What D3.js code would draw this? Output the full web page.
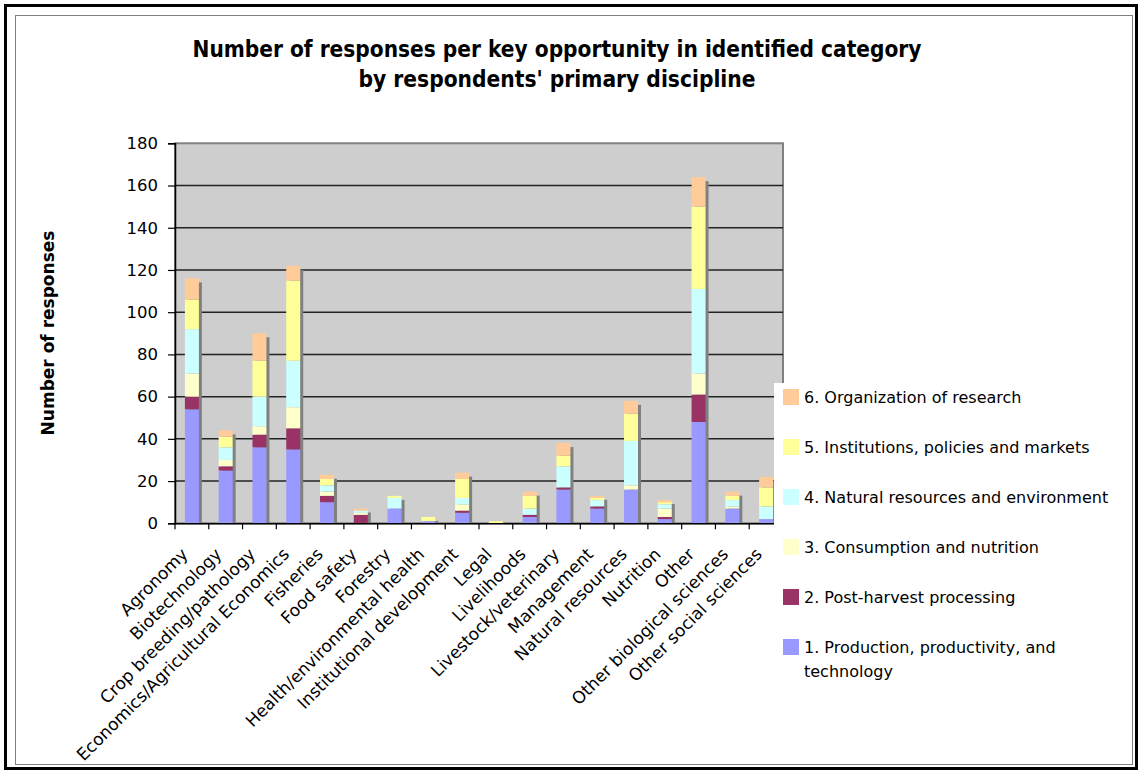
<!DOCTYPE html>
<html>
<head>
<meta charset="utf-8">
<script src="https://cdn.jsdelivr.net/npm/d3@7"></script>
<style>
  html, body { margin: 0; padding: 0; background: #fff; }
  svg { display: block; }
  text { font-family: "DejaVu Sans", sans-serif; fill: #000; }
</style>
</head>
<body>
<svg id="chart" width="1140" height="772"></svg>
<script>
// ---------- DATA ----------
const categories = [
  "Agronomy", "Biotechnology", "Crop breeding/pathology", "Economics/Agricultural Economics",
  "Fisheries", "Food safety", "Forestry", "Health/environmental health",
  "Institutional development", "Legal", "Livelihoods", "Livestock/veterinary",
  "Management", "Natural resources", "Nutrition", "Other",
  "Other biological sciences", "Other social sciences"
];
const seriesNames = [
  "1. Production, productivity, and technology",
  "2. Post-harvest processing",
  "3. Consumption and nutrition",
  "4. Natural resources and environment",
  "5. Institutions, policies and markets",
  "6. Organization of research"
];
const production   = [54, 25, 36, 35, 10, 0, 7, 1, 5, 0, 3, 16, 7, 16, 2, 48, 7, 2];
const postHarvest  = [ 6,  2,  6, 10,  3, 4, 0, 0, 1, 0, 1,  1, 1,  0, 1, 13, 0, 0];
const consumption  = [11,  3,  4, 10,  2, 1, 0, 0, 3, 0, 0,  0, 0,  2, 4, 10, 1, 0];
const naturalRes   = [21,  6, 14, 22,  3, 1, 5, 0, 3, 0, 3, 10, 3, 21, 2, 40, 3, 6];
const institutions = [14,  5, 17, 38,  3, 0, 1, 2, 9, 1, 6,  5, 1, 13, 1, 39, 2, 9];
const organization = [10,  3, 13,  7,  2, 1, 0, 0, 3, 0, 2,  6, 1,  6, 1, 14, 2, 5];
const yTicks = [0, 20, 40, 60, 80, 100, 120, 140, 160, 180];
const colors = ["#9999FF", "#993366", "#FFFFCC", "#CCFFFF", "#FFFF99", "#FFCC99"];
const titleLines = [
  "Number of responses per key opportunity in identified category",
  "by respondents' primary discipline"
];
const yTitle = "Number of responses";

// ---------- LAYOUT ----------
const svg = d3.select("#chart");
const plot = { left: 175, right: 783, top: 143.3, bottom: 523.3 };

// frames
svg.append("rect").attr("x", 5.5).attr("y", 5.5).attr("width", 1131).attr("height", 763)
  .attr("fill", "#fff").attr("stroke", "#000").attr("stroke-width", 3);
svg.append("rect").attr("x", 15.5).attr("y", 15.5).attr("width", 1117).attr("height", 749)
  .attr("fill", "#fff").attr("stroke", "#808080").attr("stroke-width", 1);

// title
const tLens = [729, 397];
const tBase = [57, 87];
titleLines.forEach((t, i) => {
  svg.append("text").attr("x", 557).attr("y", tBase[i]).attr("text-anchor", "middle")
    .attr("font-size", 23).attr("font-weight", "bold")
    .attr("textLength", tLens[i]).attr("lengthAdjust", "spacingAndGlyphs")
    .text(t);
});

// scales
const x = d3.scaleBand().domain(categories).range([plot.left, plot.right]).padding(0);
const y = d3.scaleLinear().domain([0, 180]).range([plot.bottom, plot.top]);

// plot background
svg.append("rect").attr("x", plot.left).attr("y", plot.top)
  .attr("width", plot.right - plot.left).attr("height", plot.bottom - plot.top)
  .attr("fill", "#cecece").attr("stroke", "#808080").attr("stroke-width", 2);

// gridlines
svg.append("g").selectAll("line").data(yTicks.filter(v => v > 0 && v < 180)).join("line")
  .attr("x1", plot.left).attr("x2", plot.right)
  .attr("y1", d => y(d)).attr("y2", d => y(d))
  .attr("stroke", "#222").attr("stroke-width", 1.5);

// stacked data
const seriesArrays = [production, postHarvest, consumption, naturalRes, institutions, organization];
const rows = categories.map((c, i) => {
  const r = { cat: c };
  seriesArrays.forEach((arr, k) => r["s" + k] = arr[i]);
  return r;
});
const keys = seriesArrays.map((_, k) => "s" + k);
const stacked = d3.stack().keys(keys)(rows);
const totals = rows.map(r => keys.reduce((a, k) => a + r[k], 0));

const barW = x.bandwidth() * 0.414;
const barX = c => x(c) + (x.bandwidth() - barW) / 2;

// shadows
svg.append("g").selectAll("rect").data(categories).join("rect")
  .attr("x", c => barX(c) + 3)
  .attr("y", (c, i) => Math.min(y(totals[i]) + 4, plot.bottom))
  .attr("width", barW)
  .attr("height", (c, i) => Math.max(0, plot.bottom - Math.min(y(totals[i]) + 4, plot.bottom)))
  .attr("fill", "#808080");

// bars
svg.append("g").selectAll("g").data(stacked).join("g")
  .attr("fill", (d, k) => colors[k])
  .selectAll("rect").data(d => d).join("rect")
  .attr("x", d => barX(d.data.cat))
  .attr("y", d => y(d[1]))
  .attr("width", barW)
  .attr("height", d => y(d[0]) - y(d[1]));

// y axis
const yAxis = svg.append("g").attr("transform", `translate(${plot.left},0)`)
  .call(d3.axisLeft(y).tickValues(yTicks).tickSize(7).tickPadding(10).tickFormat(d3.format("d")));
yAxis.select(".domain").attr("stroke", "#000").attr("stroke-width", 1.5);
yAxis.selectAll(".tick line").attr("stroke", "#000").attr("stroke-width", 1.2);
yAxis.selectAll(".tick text").attr("font-size", 16.5).attr("font-family", "DejaVu Sans").attr("fill", "#000");

// x axis
const xAxis = svg.append("g").attr("transform", `translate(0,${plot.bottom})`)
  .call(d3.axisBottom(x).tickSize(0).tickFormat(""));
xAxis.select(".domain").attr("stroke", "#000").attr("stroke-width", 1.5);
const bounds = categories.map(c => x(c)).concat([plot.right]);
svg.append("g").selectAll("line").data(bounds).join("line")
  .attr("x1", d => d).attr("x2", d => d)
  .attr("y1", plot.bottom).attr("y2", plot.bottom + 6)
  .attr("stroke", "#000").attr("stroke-width", 1.2);
svg.append("g").selectAll("text").data(categories).join("text")
  .attr("transform", c => `translate(${x(c) + x.bandwidth() / 2 - 3},${plot.bottom + 32}) rotate(-45)`)
  .attr("text-anchor", "end")
  .attr("font-size", 17)
  .text(c => c);

// y title
svg.append("text").attr("transform", "translate(54,333) rotate(-90)")
  .attr("text-anchor", "middle").attr("font-size", 17).attr("font-weight", "bold")
  .text(yTitle);

// legend
const lg = svg.append("g");
lg.append("rect").attr("x", 774).attr("y", 383).attr("width", 356).attr("height", 315).attr("fill", "#fff");
const legendOrder = [5, 4, 3, 2, 1, 0];
legendOrder.forEach((k, i) => {
  const cy = 397 + i * 50;
  lg.append("rect").attr("x", 783).attr("y", cy - 8).attr("width", 16).attr("height", 16).attr("fill", colors[k]);
  const t = lg.append("text").attr("x", 804).attr("y", cy + 6).attr("font-size", 16);
  if (k === 0) {
    t.append("tspan").attr("x", 804).text("1. Production, productivity, and");
    t.append("tspan").attr("x", 804).attr("dy", 24).text("technology");
  } else {
    t.text(seriesNames[k]);
  }
});
</script>
</body>
</html>
